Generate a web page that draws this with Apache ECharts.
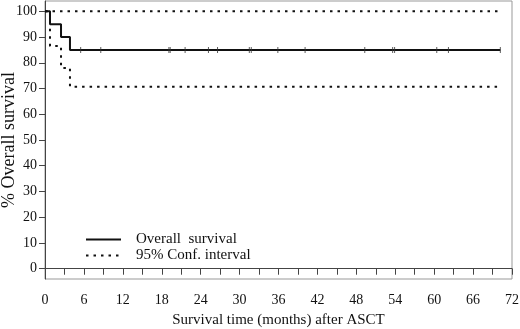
<!DOCTYPE html>
<html>
<head>
<meta charset="utf-8">
<script src="https://cdn.jsdelivr.net/npm/echarts@6/dist/echarts.min.js"></script>
<style>
html,body{margin:0;padding:0;background:#fff;}
#chart{width:520px;height:329px;}
</style>
</head>
<body>
<div id="chart"></div>
<script>
// Kaplan-Meier steps (months, %)
var survTimes = [0, 0.77, 2.47, 3.85, 70.2];
var survValues = [100, 95, 90, 85, 85];
var lowerTimes = [0, 0.77, 2.47, 3.85, 70.2];
var lowerValues = [100, 86.5, 78, 70.7, 70.7];
var upperTimes = [0, 70.2];
var upperValues = [100, 100];
// censored observations on the curve
var censorTimes = [5.5, 8.6, 19.1, 19.3, 21.6, 25.2, 26.6, 31.5, 31.8, 35.9, 40.1, 49.3, 53.6, 53.9, 60.4, 62.2, 70.2];
var censorLevel = 85;
// axes
var yTicks = [0, 10, 20, 30, 40, 50, 60, 70, 80, 90, 100];
var xLabels = [0, 6, 12, 18, 24, 30, 36, 42, 48, 54, 60, 66, 72];
var xTicks = [0, 3, 6, 9, 12, 15, 18, 21, 24, 27, 30, 33, 36, 39, 42, 45, 48, 51, 54, 57, 60, 63, 66, 69, 72];

function pairs(xs, ys) {
  var out = [];
  for (var i = 0; i < xs.length; i++) out.push([xs[i], ys[i]]);
  return out;
}

var font = 'Liberation Serif';
var chart = echarts.init(document.getElementById('chart'));
var option = {
  animation: false,
  textStyle: { fontFamily: font },
  grid: {
    left: 45, right: 8, top: 1, bottom: 50,
    containLabel: false, outerBoundsMode: 'none',
    show: true, borderColor: '#999', borderWidth: 1
  },
  legend: {
    orient: 'vertical',
    left: 80, top: 227,
    itemWidth: 35, itemHeight: 14, itemGap: 1,
    selectedMode: false,
    itemStyle: { opacity: 0 },
    textStyle: { fontFamily: font, fontSize: 15, color: '#111', padding: [0, 0, 0, 10] },
    data: ['Overall  survival', '95% Conf. interval']
  },
  xAxis: {
    type: 'value', min: 0, max: 72,
    name: 'Survival time (months) after ASCT',
    nameLocation: 'middle', nameGap: 34, nameMoveOverlap: false,
    nameTextStyle: { fontFamily: font, fontSize: 15, color: '#111' },
    axisLine: { lineStyle: { color: '#444', width: 1 } },
    axisTick: { show: true, length: 6, customValues: xTicks, lineStyle: { color: '#444' } },
    axisLabel: { customValues: xLabels, fontFamily: font, fontSize: 14, color: '#111', margin: 14 },
    splitLine: { show: false }
  },
  yAxis: {
    type: 'value', min: -4, max: 104,
    name: '% Overall survival',
    nameLocation: 'middle', nameGap: 27, nameRotate: 90, nameMoveOverlap: false,
    nameTextStyle: { fontFamily: font, fontSize: 18, color: '#111' },
    axisLine: { show: true, lineStyle: { color: '#444', width: 1 } },
    axisTick: { show: true, length: 6, customValues: yTicks, lineStyle: { color: '#444' } },
    axisLabel: { customValues: yTicks, fontFamily: font, fontSize: 14, color: '#111', margin: 8 },
    splitLine: { show: false }
  },
  series: [
    {
      name: 'Overall  survival', type: 'line', step: 'end',
      symbol: 'none', z: 3,
      lineStyle: { color: '#111', width: 2 },
      itemStyle: { color: '#111' },
      data: pairs(survTimes, survValues)
    },
    {
      name: '95% Conf. interval', type: 'line', step: 'end',
      symbol: 'none',
      lineStyle: { color: '#111', width: 2, type: [2.5, 5] },
      itemStyle: { color: '#111' },
      data: pairs(lowerTimes, lowerValues)
    },
    {
      name: '95% Conf. interval', type: 'line', step: 'end',
      symbol: 'none',
      lineStyle: { color: '#111', width: 2, type: [2.5, 5] },
      itemStyle: { color: '#111' },
      data: pairs(upperTimes, upperValues)
    },
    {
      name: 'censored', type: 'scatter',
      symbol: 'rect', symbolSize: [1, 6], z: 4,
      itemStyle: { color: '#333' },
      data: censorTimes.map(function (t) { return [t, censorLevel]; })
    }
  ]
};
chart.setOption(option);
</script>
</body>
</html>
